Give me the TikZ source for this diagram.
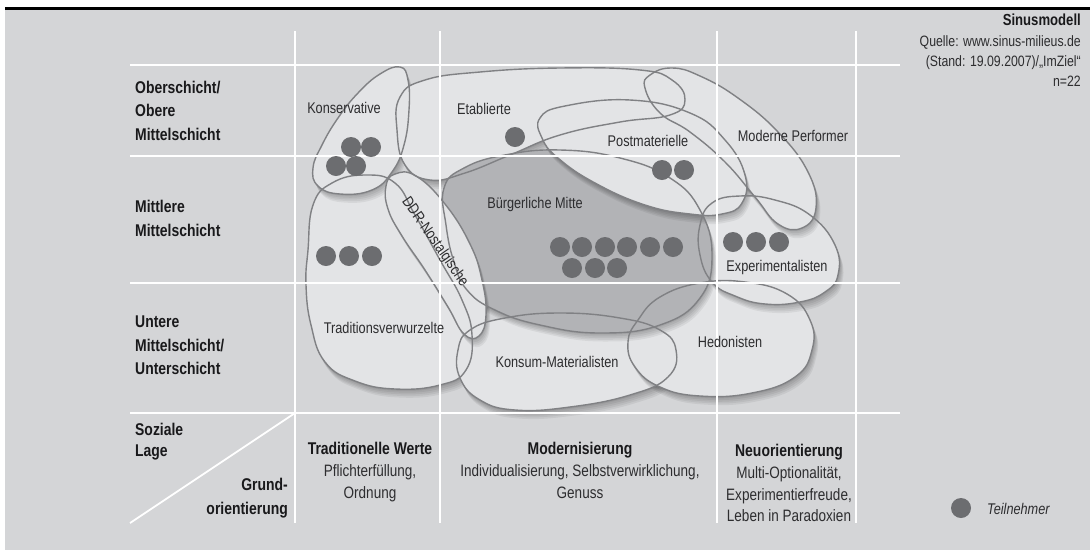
\documentclass[tikz,border=0pt]{standalone}
\usepackage{fontspec}
\setmainfont{Liberation Sans}[FakeStretch=0.82]
\definecolor{bgc}{RGB}{212,213,215}
\definecolor{blobc}{RGB}{227,228,230}
\definecolor{bmc}{RGB}{178,179,182}
\definecolor{outc}{RGB}{128,129,132}
\definecolor{dotc}{RGB}{108,109,112}
\definecolor{txtc}{RGB}{45,45,47}
\definecolor{rowc}{RGB}{25,25,27}
\newcommand\fmil{\fontsize{15.5}{18}\selectfont}
\newcommand\frow{\fontsize{17}{20}\selectfont}
\newcommand\fdesc{\fontsize{16.5}{19}\selectfont}
\newcommand\fsrc{\fontsize{15}{18}\selectfont}
% blob outlines (image pixel coordinates, y downwards)
\newcommand\bTrad{plot[smooth cycle,tension=0.75] coordinates {(308,250) (313,205) (332,183) (365,175) (395,183) (415,215) (440,260) (462,300) (472,335) (466,370) (440,385) (395,389) (355,381) (325,362) (311,325) (306,285)}}
\newcommand\bKons{plot[smooth cycle,tension=0.75] coordinates {(400,67) (408,80) (409,110) (404,145) (392,172) (372,190) (340,194) (318,186) (313,168) (322,145) (338,118) (358,93) (380,74)}}
\newcommand\bEtab{plot[smooth cycle,tension=0.75] coordinates {(400,97) (425,80) (480,72) (560,68) (640,70) (672,80) (685,100) (670,115) (620,122) (560,135) (510,155) (465,173) (430,180) (405,165) (397,130)}}
\newcommand\bMP{plot[smooth cycle,tension=0.75] coordinates {(645,88) (650,75) (672,68) (700,76) (738,98) (778,132) (808,172) (816,208) (802,228) (778,224) (755,197) (725,162) (690,132) (660,113)}}
\newcommand\bPost{plot[smooth cycle,tension=0.75] coordinates {(540,118) (565,106) (630,100) (690,113) (725,140) (745,175) (742,203) (722,214) (690,214) (645,205) (595,183) (558,158) (542,138)}}
\newcommand\bBM{plot[smooth cycle,tension=0.75] coordinates {(444,188) (464,168) (505,155) (560,150) (620,158) (670,178) (700,210) (712,255) (700,298) (660,325) (600,333) (540,325) (495,310) (467,290) (454,262) (446,225)}}
\newcommand\bDDR{plot[smooth cycle,tension=0.75] coordinates {(386,186) (395,174) (416,176) (445,204) (470,244) (482,280) (486,315) (479,336) (464,334) (448,307) (425,270) (402,236) (388,209)}}
\newcommand\bKonsum{plot[smooth cycle,tension=0.75] coordinates {(470,330) (505,318) (560,313) (620,318) (660,330) (676,350) (668,377) (630,395) (570,407) (515,410) (480,400) (460,378) (458,350)}}
\newcommand\bHed{plot[smooth cycle,tension=0.75] coordinates {(638,320) (660,297) (700,283) (745,282) (787,294) (810,320) (812,350) (795,377) (752,393) (700,396) (660,387) (635,367) (628,342)}}
\newcommand\bExp{plot[smooth cycle,tension=0.75] coordinates {(700,225) (712,203) (740,196) (775,200) (810,215) (835,245) (838,275) (825,292) (800,302) (765,304) (735,296) (712,282) (700,255)}}
\newcommand\shadowed[1]{\foreach \k in {1,2,3,4,5}{\fill[black,opacity=0.06,xshift={0.8*\k},yshift={-1.7*\k}] #1;}}
\newcommand\blob[2]{\shadowed{#1}\fill[#2] #1;}
\tikzset{
  mlab/.style={font=\fmil, text=txtc, inner sep=0pt, text height=11pt, text depth=0pt},
  rlab/.style={font=\frow\bfseries, text=rowc, inner sep=0pt, anchor=west, text height=12.2pt, text depth=0pt},
  rlabr/.style={rlab, anchor=east},
  chead/.style={font=\frow\bfseries, text=rowc, inner sep=0pt, text height=12.2pt, text depth=0pt},
  cdesc/.style={font=\fdesc, text=txtc, inner sep=0pt, text height=11.8pt, text depth=0pt},
  src/.style={font=\fsrc, text=txtc, inner sep=0pt, anchor=east, text height=10.8pt, text depth=0pt},
  dot/.style={circle, fill=dotc, minimum size=20pt, inner sep=0pt},
  gridl/.style={white, line width=1.8pt},
  outl/.style={draw=outc, line width=1.4pt},
}
\begin{document}
\begin{tikzpicture}[x=1pt,y=-1pt]
\useasboundingbox (0,0) rectangle (1090,550);
\fill[white] (0,0) rectangle (1090,550);
\fill[bgc] (5,10) rectangle (1090,550);
\fill[black] (5,6.5) rectangle (1090,10);
% blobs
\blob{\bTrad}{blobc}
\blob{\bKonsum}{blobc}
\blob{\bHed}{blobc}
\blob{\bExp}{blobc}
\blob{\bKons}{blobc}
\blob{\bEtab}{blobc}
\blob{\bMP}{blobc}
\blob{\bBM}{bmc}
\blob{\bDDR}{blobc}
\blob{\bPost}{blobc}
\foreach \b in {\bTrad,\bKonsum,\bHed,\bExp,\bKons,\bEtab,\bMP,\bBM,\bDDR,\bPost}{\draw[outl] \b;}
% grid
\foreach \gx in {295,440,717,856}{\draw[gridl] (\gx,31) -- (\gx,523);}
\foreach \gy in {65,156,283,413}{\draw[gridl] (130,\gy) -- (900,\gy);}
\draw[gridl] (130,523) -- (295,413);
% milieu labels
\node[mlab] (lKons) at (344,108) {Konservative};
\node[mlab] (lEtab) at (484,109) {Etablierte};
\node[mlab] (lPost) at (648,141) {Postmaterielle};
\node[mlab] (lMP) at (793,136) {Moderne Performer};
\node[mlab] (lBM) at (535,203) {Bürgerliche Mitte};
\node[mlab, rotate=-55] (lDDR) at (436,241) {DDR-Nostalgische};
\node[mlab] (lTrad) at (384,328) {Traditionsverwurzelte};
\node[mlab] (lKonsum) at (557,362) {Konsum-Materialisten};
\node[mlab] (lHed) at (730,342) {Hedonisten};
\node[mlab] (lExp) at (777,266) {Experimentalisten};
% participants
\node[dot] (k1) at (351,147) {};
\node[dot] (k2) at (371,147) {};
\node[dot] (k3) at (336,166) {};
\node[dot] (k4) at (356,166) {};
\node[dot] (e1) at (515,137) {};
\node[dot] (p1) at (662,170) {};
\node[dot] (p2) at (684,170) {};
\node[dot] (t1) at (326,256) {};
\node[dot] (t2) at (349,256) {};
\node[dot] (t3) at (372,256) {};
\foreach \i/\xx in {1/560,2/582,3/605,4/627,5/650,6/673}{\node[dot] (m\i) at (\xx,247) {};}
\foreach \i/\xx in {7/572,8/595,9/617}{\node[dot] (m\i) at (\xx,268) {};}
\node[dot] (x1) at (733,242) {};
\node[dot] (x2) at (756,242) {};
\node[dot] (x3) at (779,242) {};
% row labels
\node[rlab] (r1) at (135,87) {Oberschicht/};
\node[rlab] (r2) at (135,110) {Obere};
\node[rlab] (r3) at (135,134) {Mittelschicht};
\node[rlab] (r4) at (135,206) {Mittlere};
\node[rlab] (r5) at (135,230) {Mittelschicht};
\node[rlab] (r6) at (135,321) {Untere};
\node[rlab] (r7) at (135,345) {Mittelschicht/};
\node[rlab] (r8) at (135,368) {Unterschicht};
\node[rlab] (r9) at (135,429) {Soziale};
\node[rlab] (r10) at (135,450) {Lage};
\node[rlabr] (g1) at (288,484) {Grund-};
\node[rlabr] (g2) at (288,508) {orientierung};
% column labels
\node[chead] (c1) at (370,448) {Traditionelle Werte};
\node[cdesc] (c1a) at (370,471) {Pflichterfüllung,};
\node[cdesc] (c1b) at (370,493) {Ordnung};
\node[chead] (c2) at (580,448) {Modernisierung};
\node[cdesc] (c2a) at (580,471) {Individualisierung, Selbstverwirklichung,};
\node[cdesc] (c2b) at (580,493) {Genuss};
\node[chead] (c3) at (789,450) {Neuorientierung};
\node[cdesc] (c3a) at (789,473) {Multi-Optionalität,};
\node[cdesc] (c3b) at (789,495) {Experimentierfreude,};
\node[cdesc] (c3c) at (789,516) {Leben in Paradoxien};
% source
\node[src, font=\fontsize{16}{19}\selectfont\bfseries, text=rowc] (s0) at (1081,20) {Sinusmodell};
\node[src] (s1) at (1081,41) {Quelle: www.sinus-milieus.de};
\node[src] (s2) at (1081,61) {(Stand: 19.09.2007)/„ImZiel“};
\node[src] (s3) at (1081,81) {n=22};
% legend
\node[dot] (leg) at (961,508) {};
\node[mlab, font=\fmil\itshape, anchor=west] (legt) at (987,509) {Teilnehmer};
\end{tikzpicture}
\end{document}
